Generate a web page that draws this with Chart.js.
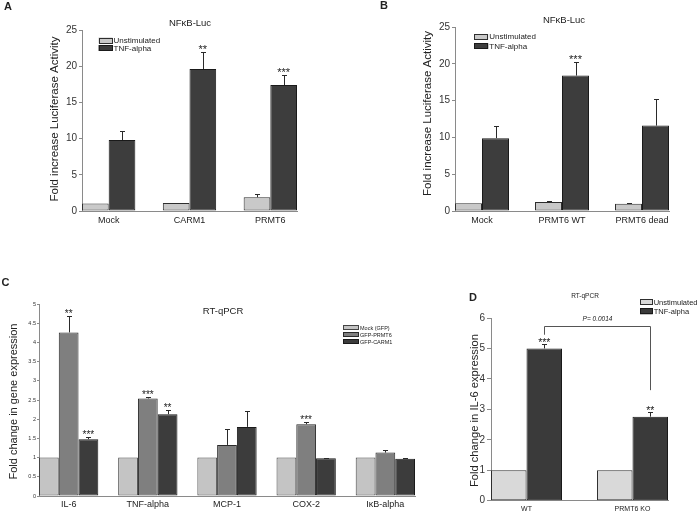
<!DOCTYPE html>
<html><head><meta charset="utf-8">
<script src="https://cdn.jsdelivr.net/npm/chart.js@4.4.1/dist/chart.umd.min.js"></script>
<style>
html,body{margin:0;padding:0;background:#fff}
body{width:697px;height:512px;overflow:hidden;position:relative}
canvas{position:absolute}
</style></head>
<body>
<script>
// ---------------- DATA ----------------
// Panel A  (NFκB-Luc)
const catsA = ['Mock', 'CARM1', 'PRMT6'];
const unstimA = [1.05, 1.1, 1.9];
const unstimSdA = [0, 0, 0.45];
const tnfA = [9.8, 19.6, 17.4];
const tnfSdA = [1.25, 2.3, 1.4];
const starsTnfA = ['', '**', '***'];
const ticksA = [0, 5, 10, 15, 20, 25];

// Panel B  (NFκB-Luc)
const catsB = ['Mock', 'PRMT6 WT', 'PRMT6 dead'];
const unstimB = [1.05, 1.23, 1.0];
const unstimSdB = [0, 0.17, 0.15];
const tnfB = [9.9, 18.4, 11.6];
const tnfSdB = [1.7, 1.9, 3.6];
const starsTnfB = ['', '***', ''];
const ticksB = [0, 5, 10, 15, 20, 25];

// Panel C  (RT-qPCR)
const catsC = ['IL-6', 'TNF-alpha', 'MCP-1', 'COX-2', 'IκB-alpha'];
const mockC = [1, 1, 1, 1, 1];
const prmt6C = [4.26, 2.54, 1.33, 1.87, 1.13];
const prmt6SdC = [0.44, 0.03, 0.41, 0.07, 0.08];
const carm1C = [1.48, 2.13, 1.80, 0.98, 0.97];
const carm1SdC = [0.05, 0.10, 0.42, 0.02, 0.03];
const starsPrmt6C = ['**', '***', '', '***', ''];
const starsCarm1C = ['***', '**', '', '', ''];
const ticksC = [0, 0.5, 1, 1.5, 2, 2.5, 3, 3.5, 4, 4.5, 5];

// Panel D  (RT-qPCR, IL-6)
const catsD = ['WT', 'PRMT6 KO'];
const unstimD = [1, 1];
const tnfD = [5.0, 2.76];
const tnfSdD = [0.15, 0.16];
const starsTnfD = ['***', '**'];
const ticksD = [0, 1, 2, 3, 4, 5, 6];
const pTextD = 'P= 0.0014';
const bracketLevelsD = [5.74, 5.45, 3.63]; // top line, left end, right end

// ---------------- RENDERING ----------------
const FONT = '"Liberation Sans", Arial, Helvetica, sans-serif';
const CFG = {};
const f = (size, style) => (style ? style + ' ' : '') + size + 'px ' + FONT;

const annotPlugin = {
  id: 'annot',
  afterDatasetsDraw(chart) {
    const c = CFG[chart.canvas.id]; const ctx = chart.ctx; const ys = chart.scales.y;
    ctx.save();
    chart.data.datasets.forEach((ds, di) => {
      const meta = chart.getDatasetMeta(di);
      meta.data.forEach((bar, i) => {
        let top = bar.y;
        const sd = ds.sd ? ds.sd[i] : 0;
        if (sd) {
          const yt = Math.round(ys.getPixelForValue(ds.data[i].y + sd)) + 0.5;
          const x = Math.round(bar.x) + 0.5;
          ctx.strokeStyle = '#2a2a2a'; ctx.lineWidth = 1;
          ctx.beginPath();
          ctx.moveTo(x, bar.y); ctx.lineTo(x, yt);
          ctx.moveTo(x - c.cap, yt); ctx.lineTo(x + c.cap, yt);
          ctx.stroke();
          top = yt;
        }
        const st = ds.stars ? ds.stars[i] : '';
        if (st) {
          ctx.fillStyle = '#222'; ctx.font = f(c.starSize);
          ctx.textAlign = 'center'; ctx.textBaseline = 'alphabetic';
          ctx.fillText(st, bar.x, top + c.starDy);
        }
      });
    });
    if (c.bracket) {
      const b = c.bracket; const meta = chart.getDatasetMeta(b.ds);
      const x1 = Math.round(meta.data[b.from].x) + 0.5, x2 = Math.round(meta.data[b.to].x) + 0.5;
      const yT = Math.round(ys.getPixelForValue(b.levels[0])) + 0.5;
      const yL = ys.getPixelForValue(b.levels[1]);
      const yR = ys.getPixelForValue(b.levels[2]);
      ctx.strokeStyle = '#555'; ctx.lineWidth = 1;
      ctx.beginPath();
      ctx.moveTo(x1, yL); ctx.lineTo(x1, yT); ctx.lineTo(x2, yT); ctx.lineTo(x2, yR);
      ctx.stroke();
      ctx.fillStyle = '#222'; ctx.font = f(b.size, 'italic');
      ctx.textAlign = 'center'; ctx.textBaseline = 'middle';
      ctx.fillText(b.text, (x1 + x2) / 2, yT + b.dy);
    }
    ctx.restore();
  },
  afterDraw(chart) {
    const c = CFG[chart.canvas.id]; const ctx = chart.ctx;
    ctx.save();
    (c.texts || []).forEach(t => {
      ctx.save();
      ctx.fillStyle = t.color || '#222';
      ctx.font = f(t.size, t.style);
      ctx.textAlign = 'center'; ctx.textBaseline = 'middle';
      ctx.translate(t.x, t.y);
      if (t.rot) ctx.rotate(-Math.PI / 2);
      ctx.fillText(t.text, 0, 0);
      ctx.restore();
    });
    const L = c.legend;
    if (L) {
      chart.data.datasets.forEach((ds, i) => {
        const y = L.y + i * L.row;
        ctx.fillStyle = ds.backgroundColor; ctx.strokeStyle = ds.borderColor; ctx.lineWidth = 1;
        ctx.fillRect(L.x, y, L.bw, L.bh);
        ctx.strokeRect(Math.round(L.x) + 0.5, Math.round(y) + 0.5, Math.round(L.bw) - 1, Math.round(L.bh) - 1);
        ctx.fillStyle = '#222'; ctx.font = f(L.size);
        ctx.textAlign = 'left'; ctx.textBaseline = 'middle';
        ctx.fillText(ds.label, L.x + L.bw + L.gap, y + L.bh / 2 + 0.5);
      });
    }
    ctx.restore();
  }
};

function panel(id, p) {
  const cv = document.createElement('canvas');
  cv.id = id; cv.width = p.w; cv.height = p.h;
  cv.style.left = p.left + 'px'; cv.style.top = p.top + 'px';
  cv.style.width = p.w + 'px'; cv.style.height = p.h + 'px';
  document.body.appendChild(cv);
  CFG[id] = p;
  const n = p.cats.length, h = p.half;
  return new Chart(cv, {
    type: 'bar',
    data: {
      datasets: p.series.map(s => ({
        label: s.label,
        data: s.values.map((v, i) => ({ x: i, y: v })),
        sd: s.sd, stars: s.stars,
        backgroundColor: s.color, borderColor: s.border,
        borderWidth: 1, borderSkipped: false,
        categoryPercentage: 2 * h, barPercentage: 1
      }))
    },
    options: {
      responsive: false, animation: false, devicePixelRatio: 1,
      layout: { padding: p.pad },
      plugins: { legend: { display: false }, tooltip: { enabled: false }, title: { display: false } },
      scales: {
        x: {
          type: 'linear', min: -h, max: n - 1 + h, offset: false,
          afterBuildTicks: s => { s.ticks = p.cats.map((c, i) => ({ value: i })); },
          ticks: { callback: v => p.cats[v], font: { family: FONT, size: p.xFont }, color: '#222',
                   padding: p.xPad, maxRotation: 0, autoSkip: false },
          grid: { display: false, drawTicks: false },
          border: { display: true, color: '#8a8a8a', width: 1 },
          afterFit: s => { s.height = p.xH; s.paddingLeft = 0; s.paddingRight = 0; s.paddingTop = 0; s.paddingBottom = 0; }
        },
        y: {
          min: p.yTicks[0], max: p.yTicks[p.yTicks.length - 1],
          afterBuildTicks: s => { s.ticks = p.yTicks.map(v => ({ value: v })); },
          ticks: { callback: v => String(v), font: { family: FONT, size: p.yFont }, color: '#333', padding: p.yPad },
          grid: { display: true, drawOnChartArea: false, drawTicks: true, tickLength: p.tickLen, color: '#8a8a8a' },
          border: { display: true, color: '#8a8a8a', width: 1 },
          afterFit: s => { s.width = p.yW; s.paddingLeft = 0; s.paddingRight = 0; s.paddingTop = 0; s.paddingBottom = 0; }
        }
      }
    },
    plugins: [annotPlugin]
  });
}

const LIGHT = '#c9c9c9', DARK = '#3d3d3d';

// Panel A: plot area x 82..297, y 30..211
panel('cA', {
  left: 0, top: 0, w: 340, h: 262,
  pad: { left: 42, right: 43, top: 30, bottom: 35 }, yW: 40, xH: 16,
  cats: catsA, half: 0.33, yTicks: ticksA,
  xFont: 9, xPad: 4, yFont: 10, yPad: 2, tickLen: 3,
  cap: 2.5, starSize: 11, starDy: 0,
  series: [
    { label: 'Unstimulated', values: unstimA, sd: unstimSdA, color: LIGHT, border: '#2e2e2e' },
    { label: 'TNF-alpha', values: tnfA, sd: tnfSdA, stars: starsTnfA, color: DARK, border: '#1a1a1a' }
  ],
  legend: { x: 98.5, y: 37.5, bw: 14, bh: 6, row: 7.5, gap: 1, size: 8 },
  texts: [
    { text: 'A', x: 8, y: 7, size: 11, style: 'bold' },
    { text: 'NFκB-Luc', x: 190, y: 23, size: 9.5 },
    { text: 'Fold increase Luciferase Activity', x: 54.5, y: 119, size: 11.5, rot: true }
  ]
});

// Panel B: plot area x 455..669, y 27..211  (canvas left 340)
panel('cB', {
  left: 340, top: 0, w: 357, h: 262,
  pad: { left: 75, right: 28, top: 27, bottom: 35 }, yW: 40, xH: 16,
  cats: catsB, half: 0.3375, yTicks: ticksB,
  xFont: 9, xPad: 4, yFont: 10, yPad: 2, tickLen: 3,
  cap: 2.5, starSize: 11, starDy: 0,
  series: [
    { label: 'Unstimulated', values: unstimB, sd: unstimSdB, color: LIGHT, border: '#2e2e2e' },
    { label: 'TNF-alpha', values: tnfB, sd: tnfSdB, stars: starsTnfB, color: DARK, border: '#1a1a1a' }
  ],
  legend: { x: 134.3, y: 34, bw: 14, bh: 5.5, row: 9.3, gap: 1, size: 8 },
  texts: [
    { text: 'B', x: 44, y: 5.5, size: 11, style: 'bold' },
    { text: 'NFκB-Luc', x: 224, y: 20.7, size: 9.5 },
    { text: 'Fold increase Luciferase Activity', x: 88, y: 113.5, size: 11.5, rot: true }
  ]
});

// Panel C: plot area x 39..415, y 304..496  (canvas top 262)
panel('cC', {
  left: 0, top: 262, w: 440, h: 250,
  pad: { left: 0, right: 25, top: 42, bottom: 2 }, yW: 39, xH: 14,
  cats: catsC, half: 0.3745, yTicks: ticksC,
  xFont: 9, xPad: 3, yFont: 5.5, yPad: 1, tickLen: 2,
  cap: 2.5, starSize: 10, starDy: 0,
  series: [
    { label: 'Mock (GFP)', values: mockC, color: '#c4c4c4', border: '#444' },
    { label: 'GFP-PRMT6', values: prmt6C, sd: prmt6SdC, stars: starsPrmt6C, color: '#7f7f7f', border: '#2a2a2a' },
    { label: 'GFP-CARM1', values: carm1C, sd: carm1SdC, stars: starsCarm1C, color: '#3c3c3c', border: '#1a1a1a' }
  ],
  legend: { x: 343.3, y: 63.3, bw: 15.7, bh: 4.7, row: 7, gap: 1, size: 5.5 },
  texts: [
    { text: 'C', x: 5.5, y: 20.5, size: 11, style: 'bold' },
    { text: 'RT-qPCR', x: 223, y: 49, size: 9.5 },
    { text: 'Fold change in gene expression', x: 13.5, y: 139.5, size: 11, rot: true }
  ]
});

// Panel D: plot area x 491..668, y 318..500.7  (canvas left 440, top 262)
panel('cD', {
  left: 440, top: 262, w: 257, h: 250,
  pad: { left: 11, right: 29, top: 56, bottom: 0 }, yW: 40, xH: 11.3,
  cats: catsD, half: 0.335, yTicks: ticksD,
  xFont: 7, xPad: 4, yFont: 10, yPad: 2, tickLen: 4,
  cap: 2.5, starSize: 10.5, starDy: 1,
  series: [
    { label: 'Unstimulated', values: unstimD, color: '#d9d9d9', border: '#2e2e2e' },
    { label: 'TNF-alpha', values: tnfD, sd: tnfSdD, stars: starsTnfD, color: '#3a3a3a', border: '#1a1a1a' }
  ],
  legend: { x: 200, y: 37, bw: 12.7, bh: 6, row: 9.3, gap: 1, size: 7.5 },
  bracket: { ds: 1, from: 0, to: 1, levels: bracketLevelsD, text: pTextD, size: 6.5, dy: -7 },
  texts: [
    { text: 'D', x: 33, y: 35.5, size: 11, style: 'bold' },
    { text: 'RT-qPCR', x: 145, y: 34.5, size: 6.5 },
    { text: 'Fold change in IL-6 expression', x: 34.5, y: 148.6, size: 11.2, rot: true }
  ]
});
</script>
</body></html>
